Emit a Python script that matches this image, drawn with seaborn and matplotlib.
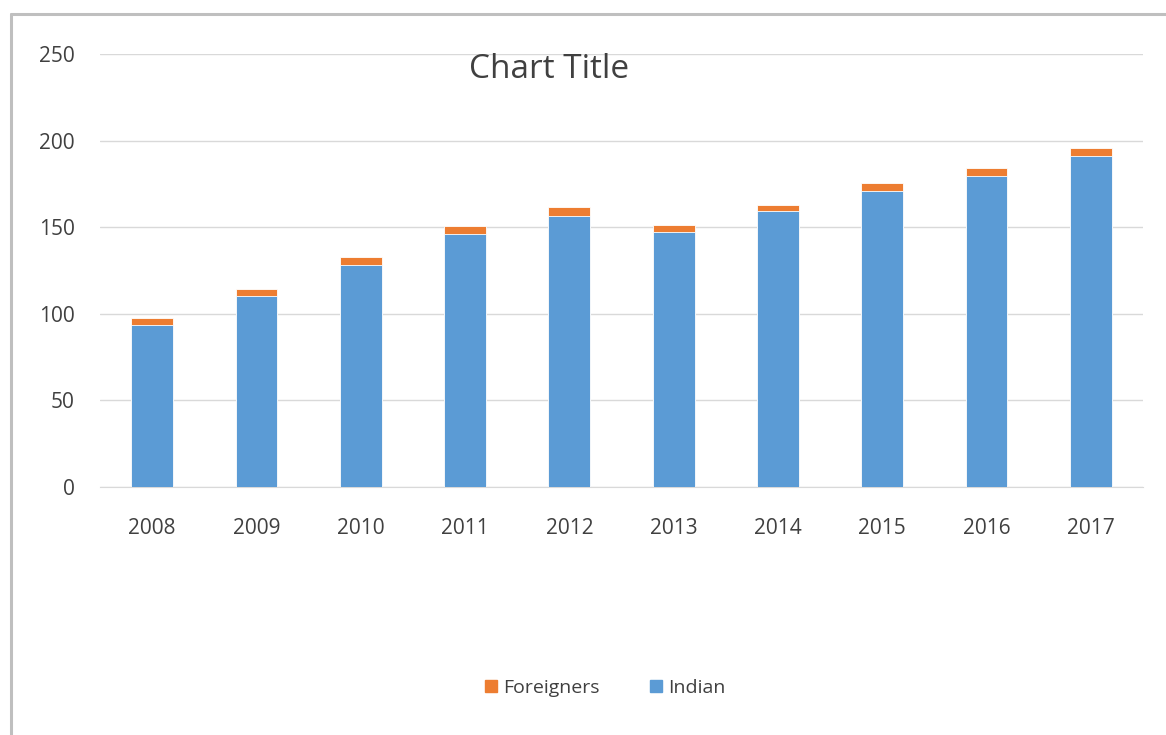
import matplotlib
matplotlib.use('Agg')
import matplotlib.pyplot as plt
import matplotlib.patches as mpatches
import seaborn as sns
import pandas as pd

# data
years = ['2008', '2009', '2010', '2011', '2012', '2013', '2014', '2015', '2016', '2017']
indian = [93.7, 110.5, 128.2, 146.3, 156.5, 147.2, 159.2, 171.1, 179.7, 191.3]
foreigners = [3.7, 4.0, 4.4, 4.6, 5.0, 4.1, 3.8, 4.2, 4.7, 4.6]

df = pd.DataFrame({'year': years, 'Indian': indian, 'Foreigners': foreigners})
df['total'] = df['Indian'] + df['Foreigners']

sns.set_style('white')
plt.rcParams['font.family'] = ['Open Sans', 'DejaVu Sans']

blue = '#5B9BD5'
orange = '#ED7D31'
txt = '#404040'

fig = plt.figure(figsize=(11.66, 7.35), dpi=100)
ax = fig.add_axes([100 / 1166, 1 - 487 / 735, 1043 / 1166, 433 / 735])

# stacked bars: total (orange) behind, indian (blue) in front
sns.barplot(data=df, x='year', y='total', color=orange, width=0.4,
            saturation=1, edgecolor='white', linewidth=0.6, ax=ax, zorder=2)
sns.barplot(data=df, x='year', y='Indian', color=blue, width=0.4,
            saturation=1, edgecolor='white', linewidth=0.6, ax=ax, zorder=3)

ax.set_ylim(0, 250)
ax.set_xlim(-0.5, len(years) - 0.5)
ax.set_yticks([0, 50, 100, 150, 200, 250])
ax.yaxis.grid(True, color='#D9D9D9', linewidth=1)
ax.set_axisbelow(True)
for s in ['top', 'right', 'left']:
    ax.spines[s].set_visible(False)
ax.spines['bottom'].set_color('#D9D9D9')
ax.set_xlabel('')
ax.set_ylabel('')
ax.tick_params(axis='x', length=0, pad=22, labelsize=15, labelcolor=txt)
ax.tick_params(axis='y', length=0, pad=18, labelsize=15, labelcolor=txt)

fig.text(549 / 1166, 1 - 69 / 735, 'Chart Title', ha='center', va='center',
         fontsize=24, color=txt)

handles = [mpatches.Patch(color=orange, label='Foreigners'),
           mpatches.Patch(color=blue, label='Indian')]
fig.legend(handles=handles, loc='center', bbox_to_anchor=(605 / 1166, 1 - 688 / 735),
           ncol=2, frameon=False, fontsize=14, handlelength=0.62, handleheight=0.62,
           handletextpad=0.3, columnspacing=2.6, labelcolor=txt)

# chart area border (top and left visible)
fig.add_artist(plt.Line2D([11 / 1166, 1], [1 - 14 / 735, 1 - 14 / 735],
                          transform=fig.transFigure, color='#BFBFBF', linewidth=2.2))
fig.add_artist(plt.Line2D([11 / 1166, 11 / 1166], [0, 1 - 14 / 735],
                          transform=fig.transFigure, color='#BFBFBF', linewidth=2.2))

fig.savefig('out.png', dpi=100, facecolor='white')
